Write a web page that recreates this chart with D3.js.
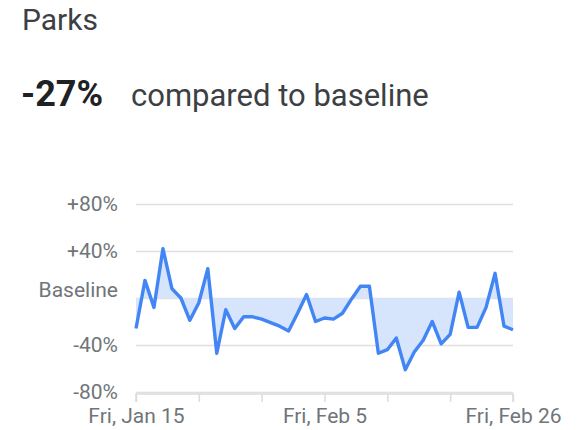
<!DOCTYPE html>
<html>
<head>
<meta charset="utf-8">
<script src="https://cdn.jsdelivr.net/npm/d3@7"></script>
<style>
  html, body { margin: 0; padding: 0; background: #fff; }
  svg { display: block; }
</style>
</head>
<body>
<svg id="chart" width="579" height="430"></svg>
<script>
// Park visits, daily change vs baseline (%), Jan 15 – Feb 26, 2021
const category = "Parks";
const headlineValue = -27;
const startDay = "2021-01-15";
const changeValues = [
  -26, 15, -8, 42, 8, 0, -19, -4, 25, -47,
  -10, -26, -16, -16, -18, -21, -24, -28, -13, 3,
  -20, -17, -18, -13, -1, 10, 10, -47, -44, -34,
  -61, -46, -36, -20, -39, -31, 5, -25, -25, -8,
  21, -24, -27
];
const yTickValues = [-80, -40, 0, 40, 80];
const xLabelDays = ["2021-01-15", "2021-02-05", "2021-02-26"];

const parseDay = d3.timeParse("%Y-%m-%d");
const start = parseDay(startDay);
const points = changeValues.map((v, i) => ({ date: d3.timeDay.offset(start, i), value: v }));

const svg = d3.select("#chart");
const font = "Roboto, 'Liberation Sans', Arial, sans-serif";

// Header
svg.append("text")
  .attr("x", 22).attr("y", 30)
  .attr("font-family", font).attr("font-size", 30)
  .attr("fill", "#3c4043")
  .text(category);

svg.append("text")
  .attr("x", 21).attr("y", 106)
  .attr("font-family", font).attr("font-size", 36).attr("font-weight", 700)
  .attr("fill", "#202124")
  .text(`${headlineValue}%`);

svg.append("text")
  .attr("x", 131).attr("y", 106)
  .attr("font-family", font).attr("font-size", 31)
  .attr("fill", "#3c4043")
  .text("compared to baseline");

// Plot area
const x = d3.scaleTime()
  .domain(d3.extent(points, d => d.date))
  .range([136, 513]);
const y = d3.scaleLinear()
  .domain([-80, 80])
  .range([392, 204]);

// Gridlines + y labels
const yAxis = d3.axisLeft(y)
  .tickValues(yTickValues)
  .tickSize(-(x.range()[1] - x.range()[0]))
  .tickPadding(18)
  .tickFormat(v => v === 0 ? "Baseline" : (v > 0 ? `+${v}%` : `${v}%`));

const gy = svg.append("g")
  .attr("transform", `translate(${x.range()[0]},0)`)
  .call(yAxis);
gy.select(".domain").remove();
gy.selectAll(".tick line").attr("stroke", "#e0e0e0").attr("stroke-width", 1.5);
gy.selectAll(".tick text")
  .attr("font-family", font).attr("font-size", 21)
  .attr("fill", "#70757a");
// the baseline label sits a little above its gridline
gy.selectAll(".tick").filter(v => v === 0).select("text").attr("dy", "-0.05em");

// Area between series and baseline
const area = d3.area()
  .x(d => x(d.date))
  .y0(y(0))
  .y1(d => y(d.value));
svg.append("path")
  .datum(points)
  .attr("d", area)
  .attr("fill", "#d7e5fc");

// Bottom axis with weekly ticks
const weekTicks = d3.timeDay.range(x.domain()[0], d3.timeDay.offset(x.domain()[1], 1), 7);
const labelSet = new Set(xLabelDays);
const fmtKey = d3.timeFormat("%Y-%m-%d");
const fmtLabel = d3.timeFormat("%a, %b %-d");
const xAxis = d3.axisBottom(x)
  .tickValues(weekTicks)
  .tickSize(8)
  .tickPadding(6)
  .tickFormat(d => labelSet.has(fmtKey(d)) ? fmtLabel(d) : "");

const gx = svg.append("g")
  .attr("transform", `translate(0,${y(-80) + 2})`)
  .call(xAxis);
gx.select(".domain").attr("stroke", "#dadce0").attr("stroke-width", 1.5)
  .attr("d", `M${x.range()[0]},8V0H${x.range()[1]}V8`);
gx.selectAll(".tick line").attr("stroke", "#dadce0").attr("stroke-width", 1.5);
gx.selectAll(".tick text")
  .attr("font-family", font).attr("font-size", 21)
  .attr("fill", "#70757a");

// Series line
const line = d3.line()
  .x(d => x(d.date))
  .y(d => y(d.value));
svg.append("path")
  .datum(points)
  .attr("d", line)
  .attr("fill", "none")
  .attr("stroke", "#4285f4")
  .attr("stroke-width", 3.4)
  .attr("stroke-linejoin", "round");
</script>
</body>
</html>
